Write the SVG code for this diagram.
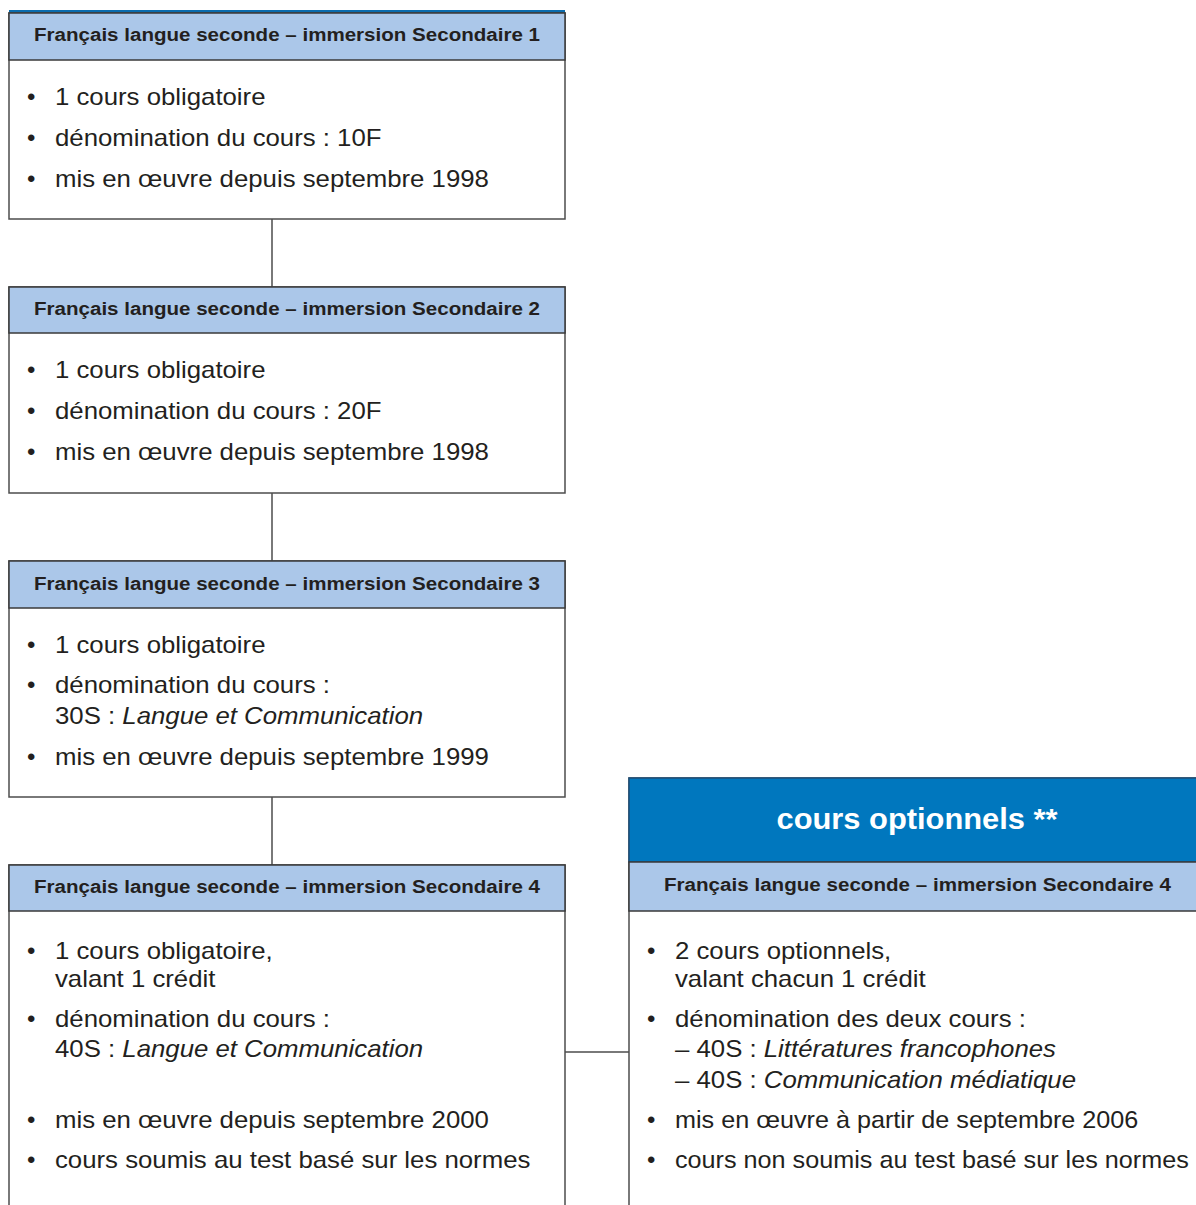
<svg xmlns="http://www.w3.org/2000/svg" width="1196" height="1205" viewBox="0 0 1196 1205">
<style>
.box{fill:#ffffff;stroke:#4d4d4d;stroke-width:1.5}
.hdr{fill:#abc7e9;stroke:#3a3a3a;stroke-width:1.5}
.top{fill:#0077be;stroke:#1d4f7a;stroke-width:1.5}
.ht{font-family:"Liberation Sans",Arial,sans-serif;font-weight:bold;font-size:18px;fill:#231f20;text-anchor:middle}
.bt{font-family:"Liberation Sans",Arial,sans-serif;font-size:24px;fill:#231f20}
.tt{font-family:"Liberation Sans",Arial,sans-serif;font-weight:bold;font-size:29px;fill:#ffffff;text-anchor:middle}
.con{stroke:#4d4d4d;stroke-width:1.5;fill:none}
</style>
<rect width="1196" height="1205" fill="#ffffff"/>
<g id="connectors">
<line class="con" x1="272" y1="219" x2="272" y2="287"/>
<line class="con" x1="272" y1="493" x2="272" y2="561"/>
<line class="con" x1="272" y1="797" x2="272" y2="865"/>
<line class="con" x1="565" y1="1052" x2="629" y2="1052"/>
</g>
<g id="sec1">
<rect x="9" y="10" width="556" height="3" fill="#0a6cae"/>
<rect class="box" x="9" y="13" width="556" height="206"/>
<rect class="hdr" x="9" y="13" width="556" height="47"/>
<text class="ht" x="287" y="41" textLength="506" lengthAdjust="spacingAndGlyphs">Français langue seconde – immersion Secondaire 1</text>
<text class="bt" x="27" y="105">•</text>
<text class="bt" x="27" y="146">•</text>
<text class="bt" x="27" y="187">•</text>
<g transform="matrix(1.074,0,0,1,-4.07,0)">
<text class="bt" x="55" y="105">1 cours obligatoire</text>
<text class="bt" x="55" y="146">dénomination du cours : 10F</text>
<text class="bt" x="55" y="187">mis en œuvre depuis septembre 1998</text>
</g>
</g>
<g id="sec2">
<rect class="box" x="9" y="287" width="556" height="206"/>
<rect class="hdr" x="9" y="287" width="556" height="46"/>
<text class="ht" x="287" y="315" textLength="506" lengthAdjust="spacingAndGlyphs">Français langue seconde – immersion Secondaire 2</text>
<text class="bt" x="27" y="378">•</text>
<text class="bt" x="27" y="419">•</text>
<text class="bt" x="27" y="460">•</text>
<g transform="matrix(1.074,0,0,1,-4.07,0)">
<text class="bt" x="55" y="378">1 cours obligatoire</text>
<text class="bt" x="55" y="419">dénomination du cours : 20F</text>
<text class="bt" x="55" y="460">mis en œuvre depuis septembre 1998</text>
</g>
</g>
<g id="sec3">
<rect class="box" x="9" y="561" width="556" height="236"/>
<rect class="hdr" x="9" y="561" width="556" height="47"/>
<text class="ht" x="287" y="590" textLength="506" lengthAdjust="spacingAndGlyphs">Français langue seconde – immersion Secondaire 3</text>
<text class="bt" x="27" y="653">•</text>
<text class="bt" x="27" y="693">•</text>
<text class="bt" x="27" y="765">•</text>
<g transform="matrix(1.074,0,0,1,-4.07,0)">
<text class="bt" x="55" y="653">1 cours obligatoire</text>
<text class="bt" x="55" y="693">dénomination du cours :</text>
<text class="bt" x="55" y="724">30S : <tspan font-style="italic">Langue et Communication</tspan></text>
<text class="bt" x="55" y="765">mis en œuvre depuis septembre 1999</text>
</g>
</g>
<g id="sec4">
<rect class="box" x="9" y="865" width="556" height="360"/>
<rect class="hdr" x="9" y="865" width="556" height="46"/>
<text class="ht" x="287" y="893" textLength="506" lengthAdjust="spacingAndGlyphs">Français langue seconde – immersion Secondaire 4</text>
<text class="bt" x="27" y="959">•</text>
<text class="bt" x="27" y="1027">•</text>
<text class="bt" x="27" y="1128">•</text>
<text class="bt" x="27" y="1168">•</text>
<g transform="matrix(1.074,0,0,1,-4.07,0)">
<text class="bt" x="55" y="959">1 cours obligatoire,</text>
<text class="bt" x="55" y="987">valant 1 crédit</text>
<text class="bt" x="55" y="1027">dénomination du cours :</text>
<text class="bt" x="55" y="1057">40S : <tspan font-style="italic">Langue et Communication</tspan></text>
<text class="bt" x="55" y="1128">mis en œuvre depuis septembre 2000</text>
<text class="bt" x="55" y="1168">cours soumis au test basé sur les normes</text>
</g>
</g>
<g id="optionnels">
<rect class="box" x="629" y="778" width="580" height="450"/>
<rect class="top" x="629" y="778" width="580" height="84"/>
<text class="tt" x="917" y="829" textLength="281" lengthAdjust="spacingAndGlyphs">cours optionnels **</text>
<rect class="hdr" x="629" y="862" width="580" height="49"/>
<text class="ht" x="917.5" y="891" textLength="507" lengthAdjust="spacingAndGlyphs">Français langue seconde – immersion Secondaire 4</text>
<text class="bt" x="647" y="959">•</text>
<text class="bt" x="647" y="1027">•</text>
<text class="bt" x="647" y="1128">•</text>
<text class="bt" x="647" y="1168">•</text>
<g transform="matrix(1.074,0,0,1,-49.95,0)">
<text class="bt" x="675" y="959">2 cours optionnels,</text>
<text class="bt" x="675" y="987">valant chacun 1 crédit</text>
<text class="bt" x="675" y="1027">dénomination des deux cours :</text>
<text class="bt" x="675" y="1057">– 40S : <tspan font-style="italic">Littératures francophones</tspan></text>
<text class="bt" x="675" y="1088">– 40S : <tspan font-style="italic">Communication médiatique</tspan></text>
</g>
<g transform="matrix(1.05,0,0,1,-33.75,0)">
<text class="bt" x="675" y="1128">mis en œuvre à partir de septembre 2006</text>
<text class="bt" x="675" y="1168">cours non soumis au test basé sur les normes</text>
</g>
</g>
</svg>
